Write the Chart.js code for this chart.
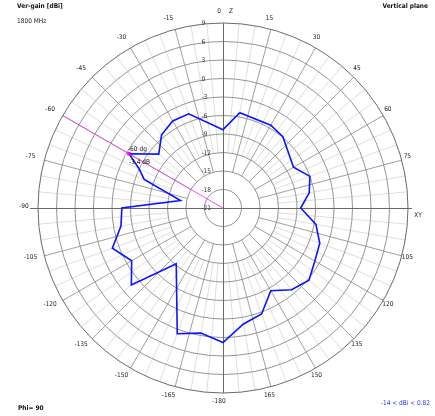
<!DOCTYPE html>
<html><head><meta charset="utf-8">
<script src="https://cdn.jsdelivr.net/npm/chart.js@4.4.1/dist/chart.umd.min.js"></script>
<style>html,body{margin:0;padding:0;background:#fff}canvas{display:block}</style>
</head><body>
<canvas id="c" width="435" height="416"></canvas>
<script>
// Angular categories (degrees, 5° grid, clockwise from Z)
const angleCategories = [0,5,10,15,20,25,30,35,40,45,50,55,60,65,70,75,80,85,90,95,100,105,110,115,120,125,130,135,140,145,150,155,160,165,170,175,180,
  -175,-170,-165,-160,-155,-150,-145,-140,-135,-130,-125,-120,-115,-110,-105,-100,-95,-90,-85,-80,-75,-70,-65,-60,-55,-50,-45,-40,-35,-30,-25,-20,-15,-10,-5];
// Measured pattern vertices (deg) and vertical gain (dBi)
const patternAngles = [0,10,30,40,60,70,80,90,100,110,120,130,140,150,160,170,180,-170,-160,-140,-130,-120,-110,-100,-90,-80,-70,-65,-60,-50,-40,-30,-20];
const gainDbi = [-8.3,-5.3,-5.5,-5.9,-7.8,-6.0,-6.8,-8.4,-5.7,-4.3,-3.8,-2.8,-3.7,-5.5,-2.7,-1.9,0.82,-0.4,0.7,-9.2,-1.6,-3.9,-1.9,-4.2,-4.6,-14.0,-7.4,-6.0,-3.4,-7.4,-5.5,-4.7,-4.75];
// Angle tick labels every 15°
const angleTickValues = [0,15,30,45,60,75,90,105,120,135,150,165,180,-165,-150,-135,-120,-105,-90,-75,-60,-45,-30,-15];
const angleTickLabels = ['0','15','30','45','60','75','','105','120','135','150','165','-180','-165','-150','-135','-120','-105','-90','-75','-60','-45','-30','-15'];
// Radial tick labels (dBi)
const ringTicks = [-21,-18,-15,-12,-9,-6,-3,0,3,6,9];
const markerAngle = -60;
const markerTexts = ['-60 dg', '-3.4 dB'];

const series = angleCategories.map(a => { const k = patternAngles.indexOf(a); return k >= 0 ? gainDbi[k] : null; });

const FONT = '"Liberation Sans Narrow","DejaVu Sans Condensed","Liberation Sans",Arial,sans-serif';

const polarExtras = {
  id: 'polarExtras',
  beforeDraw(chart) {
    const s = chart.scales.r, ctx = chart.ctx;
    ctx.save();
    ctx.fillStyle = '#fff'; ctx.fillRect(0,0,chart.width,chart.height);
    ctx.lineWidth = 1;
    angleCategories.forEach((a, i) => {
      if (a % 90 === 0) return;
      const major = a % 15 === 0;
      const p0 = s.getPointPositionForValue(i, major ? ringTicks[2] : ringTicks[3]);
      const p1 = s.getPointPositionForValue(i, ringTicks[ringTicks.length-1]);
      ctx.strokeStyle = major ? '#a0a0a0' : '#dedede';
      ctx.beginPath(); ctx.moveTo(p0.x, p0.y); ctx.lineTo(p1.x, p1.y); ctx.stroke();
    });
    ctx.restore();
  },
  beforeDatasetsDraw(chart) {
    const s = chart.scales.r, ctx = chart.ctx;
    const cx = s.xCenter, cy = s.yCenter, R = s.drawingArea;
    ctx.save();
    // main axes
    ctx.strokeStyle = '#6a6a6a'; ctx.lineWidth = 1;
    ctx.beginPath();
    ctx.moveTo(cx + 0.5, cy - R); ctx.lineTo(cx + 0.5, cy + R);
    ctx.moveTo(cx - R - 8, cy + 0.5); ctx.lineTo(cx + R + 4, cy + 0.5);
    ctx.stroke();
    // marker direction line
    const mi = angleCategories.indexOf(markerAngle);
    const m0 = s.getPointPositionForValue(mi, ringTicks[0]);
    const m1 = s.getPointPositionForValue(mi, ringTicks[ringTicks.length-1]);
    ctx.strokeStyle = '#f04cf0';
    ctx.beginPath(); ctx.moveTo(m0.x, m0.y); ctx.lineTo(m1.x, m1.y); ctx.stroke();
    // ring labels
    ctx.fillStyle = '#333'; ctx.font = '6.5px ' + FONT;
    ctx.textAlign = 'left'; ctx.textBaseline = 'middle';
    ringTicks.forEach(v => {
      const y = cy - s.getDistanceFromCenterForValue(v);
      ctx.fillText(String(v), cx - 21.5, y + 0.5);
    });
    // angle labels
    ctx.fillStyle = '#222'; ctx.textAlign = 'center';
    angleTickValues.forEach((a, k) => {
      const i = angleCategories.indexOf(a);
      const p = s.getPointPosition(i, R + 10);
      if (angleTickLabels[k]) ctx.fillText(angleTickLabels[k], p.x - 4, p.y - 1.5);
    });
    const pz = s.getPointPosition(angleCategories.indexOf(0), R + 10);
    ctx.fillText('Z', pz.x + 8, pz.y - 2);
    const px = s.getPointPosition(angleCategories.indexOf(90), R + 10);
    ctx.fillText('XY', px.x, px.y + 7.5);
    ctx.restore();
  },
  afterDatasetsDraw(chart) {
    const ctx = chart.ctx;
    const meta = chart.getDatasetMeta(0);
    const pt = meta.data[angleCategories.indexOf(markerAngle)];
    ctx.save();
    ctx.fillStyle = '#111'; ctx.font = '6.5px ' + FONT;
    ctx.textAlign = 'left'; ctx.textBaseline = 'middle';
    ctx.fillText(markerTexts[0], pt.x - 1, pt.y - 4);
    ctx.fillText(markerTexts[1], pt.x, pt.y + 9);
    // corner texts
    ctx.font = 'bold 6.5px ' + FONT;
    ctx.fillText('Ver-gain [dBi]', 17, 6.5);
    ctx.fillText('Phi= 90', 18, 408.5);
    ctx.textAlign = 'right';
    ctx.fillText('Vertical plane', 428, 6.5);
    ctx.font = '6.5px ' + FONT;
    ctx.fillStyle = '#2233ff';
    ctx.fillText('-' + Math.abs(Math.min(...gainDbi)).toFixed(0) + ' < dBi < ' + Math.max(...gainDbi).toFixed(2), 430, 403.5);
    ctx.textAlign = 'left'; ctx.fillStyle = '#222';
    ctx.fillText('1800 MHz', 17, 21.5);
    ctx.restore();
  }
};

new Chart(document.getElementById('c'), {
  type: 'radar',
  data: {
    labels: angleCategories.map(String),
    datasets: [{
      data: series,
      spanGaps: true,
      fill: false,
      tension: 0,
      borderColor: '#0a14ff',
      borderWidth: 1.6,
      pointStyle: 'rect',
      pointRadius: c => angleCategories[c.dataIndex] === markerAngle ? 2.5 : 0,
      pointHoverRadius: 0,
      pointBackgroundColor: '#ff00ff',
      pointBorderColor: '#ff00ff',
      pointBorderWidth: 0
    }]
  },
  options: {
    responsive: false,
    animation: false,
    devicePixelRatio: 1,
    events: [],
    layout: { padding: { left: 38, right: 26, top: 23, bottom: 22 } },
    plugins: { legend: { display: false }, tooltip: { enabled: false }, title: { display: false } },
    scales: {
      r: {
        min: ringTicks[0], max: ringTicks[ringTicks.length-1], startAngle: 0, beginAtZero: false,
        ticks: { display: false, stepSize: 3 },
        grid: { circular: true, lineWidth: 1,
          color: c => (c.tick && c.tick.value === ringTicks[0]) ? 'rgba(0,0,0,0)' : (c.tick && c.tick.value === ringTicks[ringTicks.length-1] ? '#6a6a6a' : '#959595') },
        angleLines: { display: false },
        pointLabels: { display: false }
      }
    }
  },
  plugins: [polarExtras]
});
</script>
</body></html>
